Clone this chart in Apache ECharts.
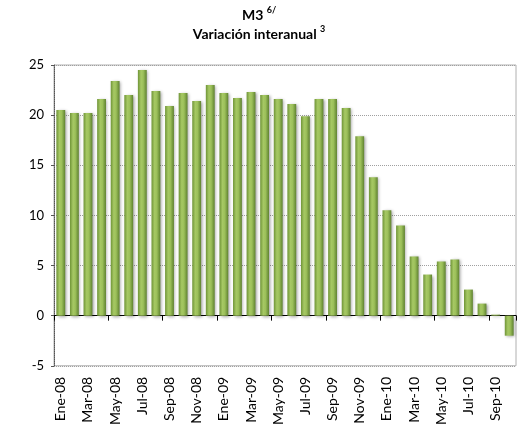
<!DOCTYPE html>
<html>
<head>
<meta charset="utf-8">
<script src="https://cdn.jsdelivr.net/npm/echarts@6/dist/echarts.min.js"></script>
<style>
  html, body { margin: 0; padding: 0; background: #fff; }
  #chart { width: 518px; height: 428px; }
</style>
</head>
<body>
<div id="chart"></div>
<script>
// meses (Ene-08 .. Oct-10)
var meses = ['Ene', 'Feb', 'Mar', 'Abr', 'May', 'Jun', 'Jul', 'Ago', 'Sep', 'Oct', 'Nov', 'Dic'];
var anios = ['08', '09', '10'];
var categorias = [];
anios.forEach(function (a) {
    meses.forEach(function (m) { categorias.push(m + '-' + a); });
});
categorias = categorias.slice(0, 34);

// variacion interanual de M3, %
var valores = [
    20.5, 20.2, 20.2, 21.6, 23.4, 22.0, 24.5, 22.4, 20.9, 22.2, 21.4, 23.0,
    22.2, 21.7, 22.3, 22.0, 21.6, 21.1, 19.9, 21.6, 21.6, 20.7, 17.9, 13.8,
    10.5, 9.0, 5.9, 4.1, 5.4, 5.6, 2.6, 1.2, 0.1, -2.0
];

var fuente = 'Lato, "Open Sans", sans-serif';

var verde = new echarts.graphic.LinearGradient(0, 0, 1, 0, [
    {offset: 0, color: '#6f9437'},
    {offset: 0.35, color: '#a6c864'},
    {offset: 0.6, color: '#9cc05a'},
    {offset: 1, color: '#5f8230'}
]);

var option = {
    animation: false,
    title: {
        text: '{a|M3 }{s|6/}\n{a|Variación interanual }{s|3}',
        left: 'center',
        top: 1,
        textStyle: {
            rich: {
                a: {fontFamily: fuente, fontWeight: 'bold', fontSize: 14, color: '#000', lineHeight: 19},
                s: {fontFamily: fuente, fontWeight: 'bold', fontSize: 9, color: '#000', verticalAlign: 'top', lineHeight: 19, padding: [0, 0, 6, 0]}
            }
        }
    },
    grid: {
        left: 54, right: 2, top: 65, bottom: 61,
        show: true,
        borderColor: '#b0b0b0',
        borderWidth: 1
    },
    xAxis: [
        {   // linea del cero con marcas
            type: 'category',
            data: categorias,
            axisLine: {onZero: true, lineStyle: {color: '#000', width: 1}},
            axisTick: {show: true, length: 5, lineStyle: {color: '#000'}},
            axisLabel: {show: false},
            splitLine: {show: false}
        },
        {   // etiquetas abajo
            type: 'category',
            data: categorias,
            position: 'bottom',
            axisLine: {onZero: false, show: false},
            axisTick: {show: false},
            axisLabel: {
                interval: 1,
                rotate: 90,
                margin: 11,
                fontFamily: fuente,
                fontSize: 14,
                color: '#000'
            }
        }
    ],
    yAxis: {
        type: 'value',
        min: -5,
        max: 25,
        interval: 5,
        axisLine: {show: true, lineStyle: {color: '#555', type: 'dotted'}},
        axisTick: {show: true, length: 3, lineStyle: {color: '#555'}},
        axisLabel: {fontFamily: fuente, fontSize: 13, color: '#000', margin: 10},
        splitLine: {lineStyle: {color: '#a0a0a0', type: 'dotted'}}
    },
    series: [{
        type: 'bar',
        xAxisIndex: 0,
        data: valores,
        barCategoryGap: '35%',
        itemStyle: {
            color: verde,
            shadowColor: 'rgba(0,0,0,0.35)',
            shadowBlur: 3,
            shadowOffsetX: 1.5,
            shadowOffsetY: 1
        }
    }]
};

var myChart = echarts.init(document.getElementById('chart'));
myChart.setOption(option);
</script>
</body>
</html>
